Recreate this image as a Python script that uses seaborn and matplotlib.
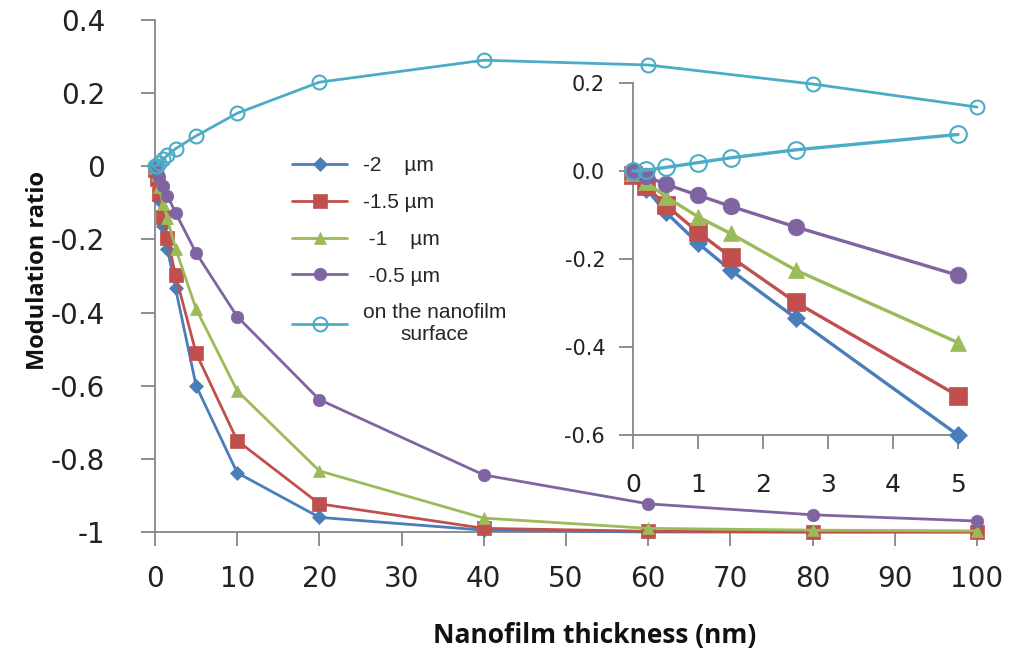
import matplotlib
matplotlib.use("Agg")
import matplotlib.pyplot as plt
import seaborn as sns
import pandas as pd

# ---- data ----
thickness = [0, 0.2, 0.5, 1, 1.5, 2.5, 5, 10, 20, 40, 60, 80, 100]
m_2um = [0, -0.040, -0.093, -0.164, -0.225, -0.334, -0.600, -0.838, -0.960, -0.995, -1.000, -1.000, -1.000]
m_15um = [-0.010, -0.035, -0.077, -0.139, -0.195, -0.298, -0.511, -0.750, -0.923, -0.990, -0.998, -1.000, -1.000]
m_1um = [-0.005, -0.025, -0.058, -0.104, -0.142, -0.225, -0.390, -0.614, -0.833, -0.962, -0.990, -0.995, -0.997]
m_05um = [-0.003, -0.012, -0.030, -0.055, -0.080, -0.127, -0.237, -0.411, -0.638, -0.844, -0.923, -0.953, -0.970]
m_surface = [0, 0.002, 0.008, 0.019, 0.030, 0.048, 0.083, 0.145, 0.230, 0.290, 0.277, 0.225, 0.162]

labels = ["-2    \u00b5m", "-1.5 \u00b5m", " -1    \u00b5m", " -0.5 \u00b5m", "on the nanofilm\nsurface"]
main_xticks = [0, 10, 20, 30, 40, 50, 60, 70, 80, 90, 100]
main_yticks = [0.4, 0.2, 0, -0.2, -0.4, -0.6, -0.8, -1]
main_yticklabels = ["0.4", "0.2", "0", "-0.2", "-0.4", "-0.6", "-0.8", "-1"]
inset_xticks = [0, 1, 2, 3, 4, 5]
inset_yticks = [0.2, 0.0, -0.2, -0.4, -0.6]
inset_yticklabels = ["0.2", "0.0", "-0.2", "-0.4", "-0.6"]

series = [m_2um, m_15um, m_1um, m_05um, m_surface]
colors = ["#4A7EBB", "#C0504D", "#9BBB59", "#8064A2", "#4BACC6"]
markers = ["D", "s", "^", "o", "o"]
main_ms = [7, 9.5, 9, 9, 10]
inset_ms = [9, 13, 12, 12, 12]

sns.set_theme(style="ticks")
plt.rcParams["font.family"] = ["DejaVu Sans"]

W, H = 1015, 654
fig = plt.figure(figsize=(W / 100, H / 100), dpi=100)
ax = fig.add_axes([155 / W, 1 - 532 / H, 822 / W, 512 / H])
ax2 = fig.add_axes([633 / W, 1 - 435 / H, 325 / W, 352 / H])
ax2.patch.set_alpha(0)

for vals, c, mk, ms, ms2, lab in zip(series, colors, markers, main_ms, inset_ms, labels):
    df = pd.DataFrame({"x": thickness, "y": vals})
    open_marker = lab.startswith("on")
    kw = dict(markerfacecolor="none" if open_marker else c,
              markeredgecolor=c, markeredgewidth=1.5 if open_marker else 0.5)
    sns.lineplot(data=df, x="x", y="y", ax=ax, color=c, marker=mk, markersize=ms,
                 linewidth=2.0, label=lab, clip_on=False, zorder=3, **kw)
    dfi = df[df["x"] <= 5]
    sns.lineplot(data=dfi, x="x", y="y", ax=ax2, color=c, marker=mk, markersize=ms2,
                 linewidth=2.4, clip_on=False, legend=False, zorder=3, **kw)

gray = "#868686"
for a in (ax, ax2):
    sns.despine(ax=a)
    for s in ("left", "bottom"):
        a.spines[s].set_color(gray)
        a.spines[s].set_linewidth(1.3)
    a.set_xlabel("")
    a.set_ylabel("")

ax.set_xlim(0, 100)
ax.set_ylim(-1, 0.4)
ax.set_xticks(main_xticks)
ax.set_xticklabels([str(t) for t in main_xticks])
ax.set_yticks(main_yticks)
ax.set_yticklabels(main_yticklabels)
ax.tick_params(axis="y", length=10, width=1.3, color=gray, labelsize=20, pad=26, labelcolor="#222222")
ax.tick_params(axis="x", length=10, width=1.3, color=gray, labelsize=20, pad=14, labelcolor="#222222")

ax2.set_xlim(0, 5)
ax2.set_ylim(-0.6, 0.2)
ax2.set_xticks(inset_xticks)
ax2.set_xticklabels([str(t) for t in inset_xticks])
ax2.set_yticks(inset_yticks)
ax2.set_yticklabels(inset_yticklabels)
ax2.tick_params(axis="y", length=10, width=1.3, color=gray, labelsize=15, pad=10, labelcolor="#222222")
ax2.tick_params(axis="x", length=10, width=1.3, color=gray, labelsize=18, pad=17, labelcolor="#222222")

ax.set_xlabel("Nanofilm thickness (nm)", fontsize=19, fontweight="bold",
              family=["Open Sans", "DejaVu Sans"], color="#111111")
ax.xaxis.set_label_coords((595 - 155) / 822, (532 - 622) / 512)
ax.set_ylabel("Modulation ratio", fontsize=17, fontweight="bold",
              family=["Open Sans", "DejaVu Sans"], color="#111111")
ax.yaxis.set_label_coords((50 - 155) / 822, (532 - 270) / 512)

leg = ax.legend(loc="upper left", bbox_to_anchor=(282 / W, 1 - 146 / H),
                bbox_transform=fig.transFigure, frameon=False,
                prop={"family": ["Liberation Sans", "DejaVu Sans"], "size": 15},
                handlelength=2.6, handletextpad=0.8, labelspacing=0.85, borderpad=0)
for t in leg.get_texts():
    t.set_multialignment("center")

fig.savefig("out.png", dpi=100)
